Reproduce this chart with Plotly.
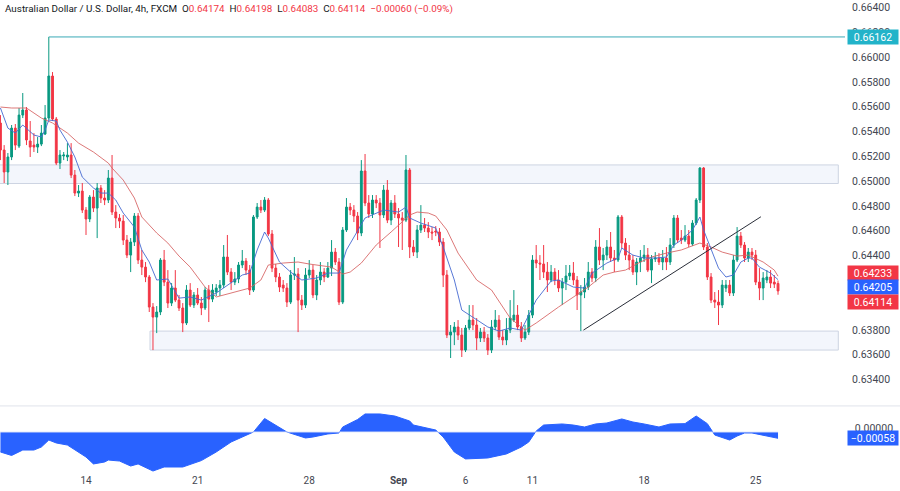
import plotly.graph_objects as go

# ---------------- data (AUD/USD 4h, FXCM) ----------------
opens = [0.65468,0.65250,0.65073,0.65194,0.65427,0.65282,0.65532,0.65573,0.65323,0.65290,
0.65274,0.65298,0.65379,0.65508,0.65847,0.65500,0.65145,0.65202,0.65194,0.65210,
0.65048,0.64903,0.64919,0.64766,0.64694,0.64871,0.64782,0.64944,0.64863,0.64847,
0.65024,0.64750,0.64702,0.64677,0.64524,0.64403,0.64508,0.64718,0.64363,0.64306,
0.64226,0.63984,0.63903,0.63944,0.64363,0.64185,0.64016,0.64137,0.64040,0.63976,
0.63855,0.64121,0.64000,0.64081,0.64016,0.63976,0.64121,0.64048,0.64105,0.64137,
0.64161,0.64387,0.64266,0.64185,0.64210,0.64323,0.64355,0.64282,0.64121,0.64710,
0.64790,0.64766,0.64847,0.64573,0.64298,0.64226,0.64161,0.64137,0.64024,0.64242,
0.64250,0.64040,0.64000,0.64242,0.64282,0.64081,0.64202,0.64266,0.64226,0.64298,
0.64427,0.64347,0.64024,0.64605,0.64790,0.64766,0.64718,0.64581,0.65081,0.64823,
0.64734,0.64847,0.64823,0.64726,0.64927,0.64685,0.64823,0.64734,0.64702,0.64685,
0.65089,0.64468,0.64427,0.64605,0.64645,0.64621,0.64589,0.64597,0.64589,0.64508,
0.64242,0.63758,0.63782,0.63823,0.63758,0.63637,0.63815,0.63879,0.63839,0.63734,
0.63782,0.63734,0.63637,0.63823,0.63879,0.63742,0.63718,0.63798,0.63879,0.63919,
0.63823,0.63734,0.63782,0.63919,0.64363,0.64339,0.64331,0.64266,0.64202,0.64266,
0.64202,0.64137,0.64185,0.64234,0.64258,0.64202,0.64081,0.64105,0.64145,0.64266,
0.64218,0.64468,0.64363,0.64403,0.64468,0.64379,0.64363,0.64710,0.64500,0.64403,
0.64363,0.64266,0.64347,0.64379,0.64403,0.64282,0.64371,0.64379,0.64347,0.64379,
0.64347,0.64484,0.64702,0.64540,0.64524,0.64556,0.64492,0.64661,0.64847,0.65105,
0.64468,0.64226,0.64040,0.64024,0.64000,0.64137,0.64161,0.64097,0.64363,0.64556,
0.64484,0.64379,0.64427,0.64403,0.64185,0.64137,0.64202,0.64226,0.64185,0.64174]
highs = [0.65532,0.65290,0.65226,0.65452,0.65460,0.65589,0.65710,0.65597,0.65484,0.65387,
0.65355,0.65452,0.65613,0.66162,0.65879,0.65516,0.65250,0.65234,0.65306,0.65306,
0.65089,0.64968,0.64984,0.64790,0.64887,0.64927,0.64984,0.64968,0.64927,0.65089,
0.65210,0.64806,0.64734,0.64726,0.64565,0.64540,0.64742,0.64742,0.64444,0.64347,
0.64242,0.64016,0.63992,0.64379,0.64444,0.64282,0.64177,0.64282,0.64081,0.64016,
0.64161,0.64177,0.64105,0.64137,0.64065,0.64145,0.64161,0.64169,0.64169,0.64202,
0.64484,0.64565,0.64298,0.64266,0.64347,0.64444,0.64379,0.64323,0.64726,0.64823,
0.64847,0.64871,0.64863,0.64605,0.64331,0.64258,0.64202,0.64177,0.64282,0.64387,
0.64298,0.64081,0.64298,0.64363,0.64323,0.64242,0.64347,0.64298,0.64347,0.64524,
0.64460,0.64379,0.64629,0.64863,0.64823,0.64806,0.64750,0.65169,0.65218,0.64887,
0.64887,0.64887,0.64863,0.64968,0.65008,0.64847,0.64887,0.64782,0.64750,0.65210,
0.65105,0.64524,0.64645,0.64806,0.64702,0.64669,0.64629,0.64637,0.64621,0.64540,
0.64282,0.63839,0.63863,0.63879,0.63815,0.63839,0.64000,0.64000,0.63895,0.63815,
0.63823,0.63766,0.63879,0.63960,0.63919,0.63798,0.63895,0.64040,0.64121,0.64000,
0.63863,0.63839,0.63960,0.64403,0.64484,0.64403,0.64484,0.64347,0.64323,0.64298,
0.64282,0.64218,0.64323,0.64323,0.64347,0.64234,0.64161,0.64218,0.64347,0.64298,
0.64524,0.64621,0.64460,0.64524,0.64589,0.64444,0.64726,0.64726,0.64540,0.64484,
0.64403,0.64379,0.64444,0.64484,0.64460,0.64403,0.64427,0.64419,0.64444,0.64468,
0.64540,0.64726,0.64726,0.64605,0.64645,0.64605,0.64685,0.64863,0.65113,0.65113,
0.64500,0.64258,0.64105,0.64121,0.64202,0.64202,0.64202,0.64403,0.64629,0.64589,
0.64508,0.64460,0.64460,0.64444,0.64298,0.64266,0.64282,0.64282,0.64242,0.64198]
lows = [0.65169,0.64984,0.64968,0.65169,0.65250,0.65266,0.65508,0.65290,0.65194,0.65234,
0.65226,0.65282,0.65371,0.65492,0.65484,0.65129,0.65097,0.65169,0.65161,0.65024,
0.64879,0.64871,0.64742,0.64565,0.64669,0.64750,0.64540,0.64823,0.64806,0.64823,
0.64726,0.64621,0.64621,0.64484,0.64379,0.64266,0.64476,0.64331,0.64242,0.64185,
0.63944,0.63637,0.63774,0.63919,0.64153,0.63976,0.63992,0.64024,0.63952,0.63782,
0.63839,0.63984,0.63976,0.64000,0.63919,0.63960,0.63863,0.64024,0.64073,0.64073,
0.64137,0.64242,0.64121,0.64161,0.64177,0.64298,0.64242,0.64081,0.64105,0.64694,
0.64742,0.64750,0.64556,0.64266,0.64185,0.64105,0.64105,0.63984,0.64008,0.64202,
0.63782,0.63960,0.63976,0.64218,0.64056,0.64040,0.64161,0.64185,0.64218,0.64234,
0.64323,0.64000,0.64008,0.64589,0.64726,0.64669,0.64524,0.64556,0.64798,0.64702,
0.64702,0.64782,0.64460,0.64702,0.64661,0.64645,0.64702,0.64468,0.64444,0.64669,
0.64379,0.64395,0.64379,0.64581,0.64589,0.64540,0.64524,0.64556,0.64476,0.64145,
0.63734,0.63573,0.63677,0.63718,0.63581,0.63621,0.63798,0.63798,0.63637,0.63702,
0.63702,0.63597,0.63613,0.63798,0.63718,0.63677,0.63677,0.63774,0.63863,0.63798,
0.63702,0.63718,0.63758,0.63895,0.64298,0.64202,0.64218,0.64105,0.64185,0.64161,
0.64105,0.64000,0.64121,0.64202,0.64161,0.63960,0.63790,0.64056,0.64121,0.64185,
0.64185,0.64323,0.64282,0.64363,0.64347,0.64266,0.64347,0.64460,0.64363,0.64282,
0.64242,0.64161,0.64266,0.64347,0.64266,0.64177,0.64347,0.64323,0.64282,0.64282,
0.64323,0.64460,0.64500,0.64492,0.64508,0.64468,0.64476,0.64645,0.64823,0.64444,
0.64202,0.64016,0.63976,0.63839,0.63976,0.64105,0.64073,0.64073,0.64347,0.64460,
0.64347,0.64347,0.64363,0.64161,0.64040,0.64040,0.64177,0.64137,0.64137,0.64083]
closes = [0.65250,0.65073,0.65194,0.65427,0.65290,0.65532,0.65573,0.65331,0.65274,0.65274,
0.65298,0.65387,0.65508,0.65847,0.65500,0.65145,0.65210,0.65210,0.65210,0.65048,
0.64903,0.64919,0.64766,0.64694,0.64871,0.64782,0.64944,0.64863,0.64847,0.65024,
0.64750,0.64702,0.64677,0.64524,0.64403,0.64508,0.64718,0.64363,0.64306,0.64226,
0.63984,0.63903,0.63944,0.64363,0.64185,0.64016,0.64137,0.64040,0.63976,0.63855,
0.64121,0.64000,0.64081,0.64016,0.63976,0.64121,0.64048,0.64121,0.64137,0.64161,
0.64387,0.64266,0.64185,0.64210,0.64323,0.64355,0.64282,0.64121,0.64710,0.64790,
0.64766,0.64847,0.64573,0.64298,0.64226,0.64145,0.64137,0.64024,0.64242,0.64250,
0.64040,0.64000,0.64242,0.64282,0.64081,0.64202,0.64266,0.64226,0.64298,0.64427,
0.64347,0.64024,0.64605,0.64790,0.64766,0.64718,0.64581,0.65081,0.64823,0.64734,
0.64847,0.64823,0.64726,0.64927,0.64685,0.64823,0.64734,0.64702,0.64685,0.65089,
0.64468,0.64427,0.64605,0.64645,0.64621,0.64589,0.64581,0.64589,0.64508,0.64242,
0.63758,0.63782,0.63823,0.63758,0.63637,0.63815,0.63879,0.63839,0.63734,0.63782,
0.63734,0.63637,0.63823,0.63879,0.63742,0.63718,0.63798,0.63895,0.63919,0.63823,
0.63734,0.63782,0.63919,0.64363,0.64339,0.64331,0.64266,0.64202,0.64266,0.64202,
0.64137,0.64185,0.64234,0.64258,0.64202,0.64081,0.64105,0.64145,0.64266,0.64218,
0.64468,0.64363,0.64403,0.64468,0.64379,0.64363,0.64710,0.64500,0.64403,0.64363,
0.64266,0.64347,0.64379,0.64403,0.64282,0.64371,0.64379,0.64347,0.64379,0.64347,
0.64484,0.64702,0.64524,0.64524,0.64556,0.64492,0.64661,0.64847,0.65105,0.64468,
0.64226,0.64040,0.64024,0.64000,0.64161,0.64161,0.64097,0.64363,0.64556,0.64484,
0.64379,0.64427,0.64403,0.64185,0.64137,0.64218,0.64226,0.64177,0.64169,0.64114]
bar_idx = list(range(len(opens)))

# moving averages (at bar positions)
fast_idx = [0,2,4,6,9,11,12,13,15,16,18,20,22,25,27,29,31,33,36,38,40,42,45,48,51,54,58,62,65,67,
69,71,72,75,78,81,85,88,91,93,95,98,103,107,109,110,113,117,119,122,124,127,131,134,137,140,
144,148,150,154,157,159,163,166,167,170,173,176,179,181,183,186,188,189,191,193,195,197,199,
201,202,204,207,209]
fast_val = [0.65589,0.65427,0.65387,0.65452,0.65371,0.65355,0.65411,0.65492,0.65484,0.65411,
0.65314,0.65194,0.65032,0.64944,0.64903,0.64903,0.64847,0.64742,0.64629,0.64444,0.64347,
0.64202,0.64210,0.64056,0.64065,0.64040,0.64097,0.64177,0.64242,0.64258,0.64444,0.64589,
0.64540,0.64347,0.64266,0.64202,0.64218,0.64258,0.64258,0.64444,0.64548,0.64702,0.64766,
0.64750,0.64790,0.64702,0.64661,0.64621,0.64468,0.64202,0.63960,0.63903,0.63823,0.63790,
0.63815,0.63798,0.64040,0.64194,0.64202,0.64145,0.64137,0.64258,0.64339,0.64379,0.64460,
0.64403,0.64379,0.64379,0.64387,0.64484,0.64524,0.64605,0.64710,0.64605,0.64444,0.64298,
0.64226,0.64242,0.64347,0.64379,0.64379,0.64306,0.64258,0.64205]
slow_idx = [0,3,7,9,11,14,18,21,25,29,30,33,36,38,42,45,48,51,55,58,62,67,70,72,76,80,83,89,92,94,
97,101,105,110,112,115,117,120,123,128,132,137,141,144,150,154,158,162,165,168,172,175,179,183,
185,188,191,194,198,201,205,208,209]
slow_val = [0.65597,0.65589,0.65589,0.65548,0.65508,0.65468,0.65387,0.65306,0.65234,0.65145,
0.65105,0.65008,0.64863,0.64710,0.64581,0.64500,0.64395,0.64306,0.64145,0.64065,0.64097,
0.64137,0.64202,0.64323,0.64339,0.64347,0.64331,0.64306,0.64250,0.64266,0.64339,0.64484,
0.64589,0.64726,0.64750,0.64742,0.64718,0.64605,0.64419,0.64202,0.64121,0.63895,0.63798,
0.63855,0.63984,0.64065,0.64145,0.64242,0.64266,0.64282,0.64347,0.64387,0.64419,0.64444,
0.64468,0.64500,0.64468,0.64427,0.64395,0.64403,0.64347,0.64282,0.64233]

# lower-pane oscillator
osc_idx = [0,3,6,9,11,13,15,18,23,25,28,29,32,35,37,41,44,49,54,58,62,66,68,71,74,77,82,84,88,91,
92,96,98,102,106,110,111,117,119,122,125,131,136,140,142,144,146,151,154,157,160,163,167,170,
173,177,180,184,187,190,192,196,198,200,202,205,209]
osc_val = [-0.00184,-0.00216,-0.00166,-0.00166,-0.00138,-0.00074,-0.00101,-0.00120,-0.00230,
-0.00294,-0.00276,-0.00258,-0.00267,-0.00313,-0.00294,-0.00359,-0.00322,-0.00322,-0.00263,
-0.00184,-0.00092,-0.00028,0.0,0.00124,0.00064,0.0,-0.00055,-0.00046,-0.00018,-0.00009,
0.00046,0.00115,0.00166,0.00166,0.00147,0.00101,0.00064,0.00018,-0.00046,-0.00184,-0.00248,
-0.00239,-0.00202,-0.00138,-0.00092,0.00009,0.00064,0.00074,0.00064,0.00046,0.00074,0.00083,
0.00120,0.00092,0.00074,0.00046,0.00074,0.00077,0.00147,0.00077,-0.00028,-0.00074,-0.00037,
-0.00009,-0.00009,-0.00028,-0.00058]

# drawings
resistance_zone = [0.64980, 0.65130]
support_zone = [0.63637, 0.63790]
ray_level = 0.66162
ray_start = 13
trend_x = [156.7, 204.4]
trend_y = [0.63798, 0.64712]
support_start = 40.2
zone_end = 225.2

price_ticks = [0.634, 0.636, 0.638, 0.640, 0.642, 0.644, 0.646, 0.648, 0.650,
               0.652, 0.654, 0.656, 0.658, 0.660, 0.662, 0.664]
tick_pos = [23, 53, 83, 107, 125, 143, 173, 203]
tick_txt = ["14", "21", "28", "<b>Sep</b>", "6", "11", "18", "25"]

# ---------------- styling ----------------
UP = "#089981"
DN = "#F23645"
FONT = "Roboto"
TXT = "#131722"
AXTXT = "#434651"

fig = go.Figure()

fig.add_trace(go.Candlestick(
    x=bar_idx, open=opens, high=highs, low=lows, close=closes,
    increasing=dict(line=dict(color=UP, width=1), fillcolor=UP),
    decreasing=dict(line=dict(color=DN, width=1), fillcolor=DN),
    whiskerwidth=0, showlegend=False, hoverinfo="skip", xaxis="x", yaxis="y"))

fig.add_trace(go.Scatter(x=slow_idx, y=slow_val, mode="lines",
    line=dict(color="rgba(214,96,96,0.85)", width=1), showlegend=False,
    hoverinfo="skip", xaxis="x", yaxis="y"))
fig.add_trace(go.Scatter(x=fast_idx, y=fast_val, mode="lines",
    line=dict(color="rgba(70,105,210,0.9)", width=1), showlegend=False,
    hoverinfo="skip", xaxis="x", yaxis="y"))

fig.add_trace(go.Scatter(x=osc_idx, y=osc_val, mode="lines", fill="tozeroy",
    line=dict(color="#2962FF", width=1), fillcolor="#2962FF", showlegend=False,
    hoverinfo="skip", xaxis="x", yaxis="y2"))

shapes = []
zone_fill = "rgba(242,245,252,0.9)"
zone_line = "#CDD4E2"
shapes.append(dict(type="rect", xref="x", yref="y", x0=-2, x1=zone_end,
                   y0=resistance_zone[0], y1=resistance_zone[1],
                   fillcolor=zone_fill, line=dict(color=zone_line, width=1), layer="below"))
shapes.append(dict(type="rect", xref="x", yref="y", x0=support_start, x1=zone_end,
                   y0=support_zone[0], y1=support_zone[1],
                   fillcolor=zone_fill, line=dict(color=zone_line, width=1), layer="below"))
shapes.append(dict(type="line", xref="x", yref="y", x0=ray_start, x1=228,
                   y0=ray_level, y1=ray_level, line=dict(color="#3AA9B6", width=1)))
shapes.append(dict(type="line", xref="x", yref="y", x0=trend_x[0], x1=trend_x[1],
                   y0=trend_y[0], y1=trend_y[1], line=dict(color="#2A2E39", width=1)))
# pane separator
shapes.append(dict(type="line", xref="paper", yref="paper", x0=0, x1=1.07,
                   y0=0.1418, y1=0.1418, line=dict(color="#E0E3EB", width=1)))
# oscillator zero line
shapes.append(dict(type="line", xref="x", yref="y2", x0=-1, x1=bar_idx[-1],
                   y0=0, y1=0, line=dict(color="rgba(225,232,250,0.9)", width=1), layer="above"))

red = DN
title = ("Australian Dollar / U.S. Dollar, 4h, FXCM&nbsp;&nbsp;"
         f"O<span style='color:{red}'>0.64174</span>&nbsp;&nbsp;"
         f"H<span style='color:{red}'>0.64198</span>&nbsp;&nbsp;"
         f"L<span style='color:{red}'>0.64083</span>&nbsp;&nbsp;"
         f"C<span style='color:{red}'>0.64114</span>&nbsp;&nbsp;"
         f"<span style='color:{red}'>−0.00060 (−0.09%)</span>")

def price_tag(y, text, bg, yref="y", yshift=0):
    return dict(xref="paper", yref=yref, x=1, y=y, xanchor="left", yanchor="middle",
                xshift=2, yshift=yshift, text=text, showarrow=False, bgcolor=bg,
                font=dict(family=FONT, size=10.5, color="white"), width=50, height=14,
                borderpad=0, align="center")

annotations = [
    dict(xref="paper", yref="paper", x=0, y=1, xanchor="left", yanchor="top",
         xshift=3, yshift=-1, text=title, showarrow=False,
         font=dict(family=FONT, size=9.85, color=TXT)),
    price_tag(0.66162, "0.66162", "#22B3C9"),
    price_tag(0.64233, "0.64233", "#F23645", yshift=3.4),
    price_tag(0.64205, "0.64205", "#2962FF", yshift=-7.7),
    price_tag(0.64114, "0.64114", "#F23645", yshift=-10.8),
    dict(xref="paper", yref="y2", x=1, y=0, xanchor="left", yanchor="middle", xshift=2,
         yshift=4, text="0.00000", showarrow=False,
         font=dict(family=FONT, size=10.5, color=AXTXT), width=50, align="center"),
    price_tag(-0.00058, "−0.00058", "#2962FF", yref="y2"),
]

fig.update_layout(
    width=900, height=491,
    margin=dict(l=0, r=55, t=0, b=18),
    paper_bgcolor="white", plot_bgcolor="white",
    font=dict(family=FONT, size=10.5, color=AXTXT),
    showlegend=False,
    xaxis=dict(range=[-0.118, 227.0], anchor="y2", tickvals=tick_pos, ticktext=tick_txt,
               showgrid=False, zeroline=False, showline=False, ticks="",
               rangeslider=dict(visible=False), tickfont=dict(size=10, color=AXTXT)),
    yaxis=dict(domain=[0.14376, 1], range=[0.63194, 0.66460], side="right",
               tickvals=price_ticks, tickformat=".5f", showgrid=False,
               zeroline=False, showline=False, ticks="", ticklabelstandoff=6,
               tickfont=dict(size=10.5, color=AXTXT)),
    yaxis2=dict(domain=[0, 0.13953], range=[-0.003772, 0.0023], side="right",
                showticklabels=False, showgrid=False, zeroline=False, showline=False),
    shapes=shapes, annotations=annotations,
)

fig.write_html("out.html", config={"displayModeBar": False},
               post_script="document.body.style.margin='0';document.body.style.overflow='hidden';")
